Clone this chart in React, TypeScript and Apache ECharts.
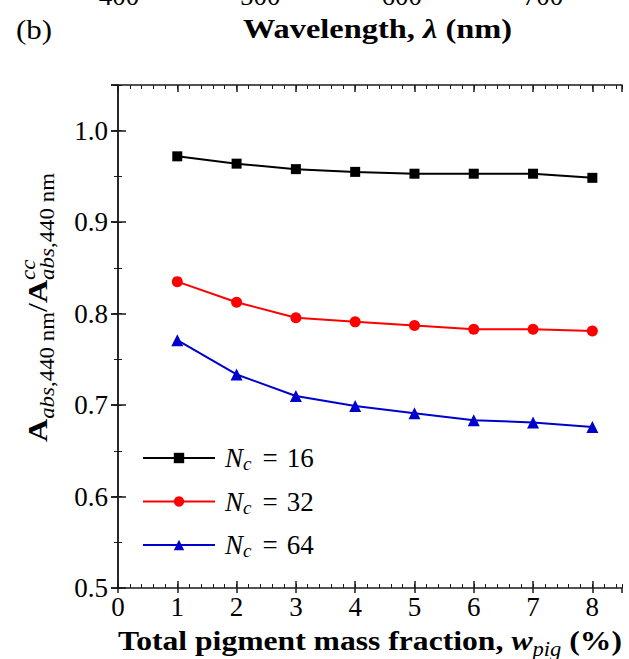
import React, { useEffect, useRef } from 'react';
import * as echarts from 'echarts';

// ---------- data ----------
const massFraction = [1, 2, 3, 4, 5, 6, 7, 8];
const nc16 = [0.972, 0.964, 0.958, 0.955, 0.953, 0.953, 0.953, 0.9485];
const nc32 = [0.835, 0.8125, 0.7955, 0.791, 0.787, 0.783, 0.783, 0.781];
const nc64 = [0.771, 0.7335, 0.71, 0.699, 0.691, 0.6835, 0.681, 0.676];
const ncLabels = ['16', '32', '64'];
const wavelengthTicks = [400, 500, 600, 700];

const FAM = 'Liberation Serif, Times New Roman, serif';
const AXIS_COLOR = '#1a1a1a';

type Piece = { text: string; size: number; weight?: string; style?: string; dy?: number; sameStart?: boolean };

let measureCtx: CanvasRenderingContext2D | null = null;
function textWidth(p: Piece): number {
  if (!measureCtx) measureCtx = document.createElement('canvas').getContext('2d');
  const ctx = measureCtx!;
  ctx.font = `${p.style || 'normal'} ${p.weight || 'normal'} ${p.size}px ${FAM}`;
  return ctx.measureText(p.text).width;
}

function buildRun(pieces: Piece[]) {
  let cursor = 0;
  let lastStart = 0;
  const children: any[] = [];
  pieces.forEach((p) => {
    const w = textWidth(p);
    const x = p.sameStart ? lastStart : cursor;
    lastStart = x;
    cursor = Math.max(cursor, x + w);
    children.push({
      type: 'text',
      x,
      y: (p.dy || 0) - 0.3375 * p.size,
      style: {
        text: p.text,
        fontFamily: FAM,
        fontSize: p.size,
        fontWeight: p.weight || 'normal',
        fontStyle: p.style || 'normal',
        fill: '#000',
        align: 'left',
        verticalAlign: 'middle',
      },
    });
  });
  return { children, width: cursor };
}

function textGroup(pieces: Piece[], x: number, y: number, targetWidth: number, rotation = 0) {
  const run = buildRun(pieces);
  return {
    type: 'group',
    x,
    y,
    rotation,
    scaleX: targetWidth / run.width,
    scaleY: 1,
    children: run.children,
  };
}

export default function App() {
  const ref = useRef<HTMLDivElement>(null);

  useEffect(() => {
    const chart = echarts.init(ref.current!, null, { renderer: 'svg' });

    const gridGeom = { left: 118, right: 7, top: 85, bottom: 71 };
    const xRange = { min: 0, max: 8.5 };
    const yRange = { min: 0.5, max: 1.05 };
    const hiddenLabel = { show: false };
    const noLine = { show: false };
    const noSplit = { show: false };
    const lineStyleAxis = { color: AXIS_COLOR, width: 1.5 };

    const intFmt = (v: number) => (Math.abs(v - Math.round(v)) < 1e-6 ? String(Math.round(v)) : '');
    const yFmt = (v: number) => {
      const r = Math.round(v * 10) / 10;
      return Math.abs(v - r) < 1e-6 ? r.toFixed(1) : '';
    };

    const tickLabelStyle = { fontFamily: FAM, fontSize: 27, color: '#000', lineHeight: 27 };

    const yLabel = textGroup(
      [
        { text: 'A', size: 28, weight: 'bold' },
        { text: 'abs', size: 20, style: 'italic', dy: 7 },
        { text: ',440 nm', size: 20, dy: 7 },
        { text: '/', size: 28 },
        { text: 'A', size: 28, weight: 'bold' },
        { text: 'cc', size: 20, style: 'italic', dy: -12 },
        { text: 'abs', size: 20, style: 'italic', dy: 7, sameStart: true },
        { text: ',440 nm', size: 20, dy: 7 },
      ],
      47,
      442,
      269,
      Math.PI / 2
    );

    const xLabel = textGroup(
      [
        { text: 'Total pigment mass fraction, ', size: 28, weight: 'bold' },
        { text: 'w', size: 28, weight: 'bold', style: 'italic' },
        { text: 'pig', size: 20, style: 'italic', dy: 6 },
        { text: ' (%)', size: 28, weight: 'bold' },
      ],
      118,
      650,
      504
    );

    const topTitle = textGroup(
      [
        { text: 'Wavelength, ', size: 28, weight: 'bold' },
        { text: 'λ', size: 28, weight: 'bold', style: 'italic' },
        { text: ' (nm)', size: 28, weight: 'bold' },
      ],
      243,
      38,
      269
    );

    const panelLabel = textGroup([{ text: '(b)', size: 28 }], 16, 39, 36);

    const seriesDefs = [
      { data: nc16, color: '#000000', symbol: 'rect', size: 10 },
      { data: nc32, color: '#ff0000', symbol: 'circle', size: 11 },
      { data: nc64, color: '#0000cd', symbol: 'triangle', size: 12 },
    ];

    const option: any = {
      animation: false,
      backgroundColor: '#ffffff',
      grid: [
        { ...gridGeom },
        { ...gridGeom },
        { ...gridGeom },
        { left: 119, width: 424, top: -68, height: 32 },
      ],
      xAxis: [
        {
          gridIndex: 0, type: 'value', position: 'bottom', ...xRange, interval: 1,
          axisLine: { show: true, lineStyle: lineStyleAxis },
          axisTick: { show: true, inside: true, length: 7, lineStyle: lineStyleAxis },
          axisLabel: { show: true, margin: 5, formatter: intFmt, showMaxLabel: false, ...tickLabelStyle },
          splitLine: noSplit,
        },
        {
          gridIndex: 0, type: 'value', position: 'top', ...xRange, interval: 1,
          axisLine: { show: true, lineStyle: lineStyleAxis },
          axisTick: { show: true, inside: true, length: 7, lineStyle: lineStyleAxis },
          axisLabel: hiddenLabel, splitLine: noSplit,
        },
        {
          gridIndex: 1, type: 'value', position: 'bottom', ...xRange, interval: 0.2,
          axisLine: noLine,
          axisTick: { show: true, inside: true, length: 4, lineStyle: { color: AXIS_COLOR, width: 1 } },
          axisLabel: hiddenLabel, splitLine: noSplit,
        },
        {
          gridIndex: 1, type: 'value', position: 'top', ...xRange, interval: 0.2,
          axisLine: noLine,
          axisTick: { show: true, inside: true, length: 4, lineStyle: { color: AXIS_COLOR, width: 1 } },
          axisLabel: hiddenLabel, splitLine: noSplit,
        },
        {
          gridIndex: 2, type: 'value', position: 'bottom', ...xRange, interval: 1,
          axisLine: noLine,
          axisTick: { show: true, inside: false, length: 5, lineStyle: lineStyleAxis },
          axisLabel: hiddenLabel, splitLine: noSplit,
        },
        {
          gridIndex: 3, type: 'value', position: 'bottom', min: wavelengthTicks[0],
          max: wavelengthTicks[wavelengthTicks.length - 1], interval: 100,
          axisLine: noLine, axisTick: { show: false },
          axisLabel: { show: true, margin: 10, ...tickLabelStyle },
          splitLine: noSplit,
        },
      ],
      yAxis: [
        {
          gridIndex: 0, type: 'value', position: 'left', ...yRange, interval: 0.1,
          axisLine: { show: true, lineStyle: lineStyleAxis },
          axisTick: { show: true, inside: true, length: 8, lineStyle: lineStyleAxis },
          axisLabel: { show: true, margin: 10, formatter: yFmt, showMaxLabel: false, ...tickLabelStyle },
          splitLine: noSplit,
        },
        {
          gridIndex: 0, type: 'value', position: 'right', ...yRange, interval: 0.1,
          axisLine: { show: true, lineStyle: lineStyleAxis },
          axisTick: { show: true, inside: true, length: 7, lineStyle: lineStyleAxis },
          axisLabel: hiddenLabel, splitLine: noSplit,
        },
        {
          gridIndex: 1, type: 'value', position: 'left', ...yRange, interval: 0.05,
          axisLine: noLine,
          axisTick: { show: true, inside: true, length: 4, lineStyle: { color: AXIS_COLOR, width: 1 } },
          axisLabel: hiddenLabel, splitLine: noSplit,
        },
        {
          gridIndex: 1, type: 'value', position: 'right', ...yRange, interval: 0.05,
          axisLine: noLine,
          axisTick: { show: true, inside: true, length: 4, lineStyle: { color: AXIS_COLOR, width: 1 } },
          axisLabel: hiddenLabel, splitLine: noSplit,
        },
        {
          gridIndex: 2, type: 'value', position: 'left', ...yRange, interval: 0.1,
          axisLine: noLine,
          axisTick: { show: true, inside: false, length: 7, lineStyle: lineStyleAxis },
          axisLabel: hiddenLabel, splitLine: noSplit,
        },
        {
          gridIndex: 3, type: 'value', min: 0, max: 1, show: false,
        },
      ],
      legend: {
        orient: 'vertical',
        left: 142,
        top: 443,
        padding: 0,
        itemWidth: 72,
        itemHeight: 13,
        itemGap: 13.5,
        selectedMode: false,
        data: ncLabels,
        formatter: (name: string) => `{n|N}{c|c}{eq|=}{v|${name}}`,
        textStyle: {
          lineHeight: 30,
          rich: {
            n: { fontFamily: FAM, fontStyle: 'italic', fontSize: 27, lineHeight: 30, color: '#000', padding: [0, 0, 0, 5] },
            c: { fontFamily: FAM, fontStyle: 'italic', fontSize: 19, lineHeight: 16, verticalAlign: 'bottom', color: '#000' },
            eq: { fontFamily: FAM, fontSize: 27, lineHeight: 30, color: '#000', padding: [0, 9, 0, 11] },
            v: { fontFamily: FAM, fontSize: 27, lineHeight: 30, color: '#000' },
          },
        },
      },
      series: seriesDefs.map((s, i) => ({
        name: ncLabels[i],
        type: 'line',
        xAxisIndex: 0,
        yAxisIndex: 0,
        data: massFraction.map((x, j) => [x, s.data[j]]),
        symbol: s.symbol,
        symbolSize: s.size,
        showAllSymbol: true,
        lineStyle: { color: s.color, width: 2 },
        itemStyle: { color: s.color },
        clip: false,
        z: 3,
      })),
      graphic: [yLabel, xLabel, topTitle, panelLabel],
    };

    chart.setOption(option);
    return () => chart.dispose();
  }, []);

  return (
    <div
      ref={ref}
      style={{ position: 'fixed', left: 0, top: 0, width: 629, height: 659, background: '#fff' }}
    />
  );
}
